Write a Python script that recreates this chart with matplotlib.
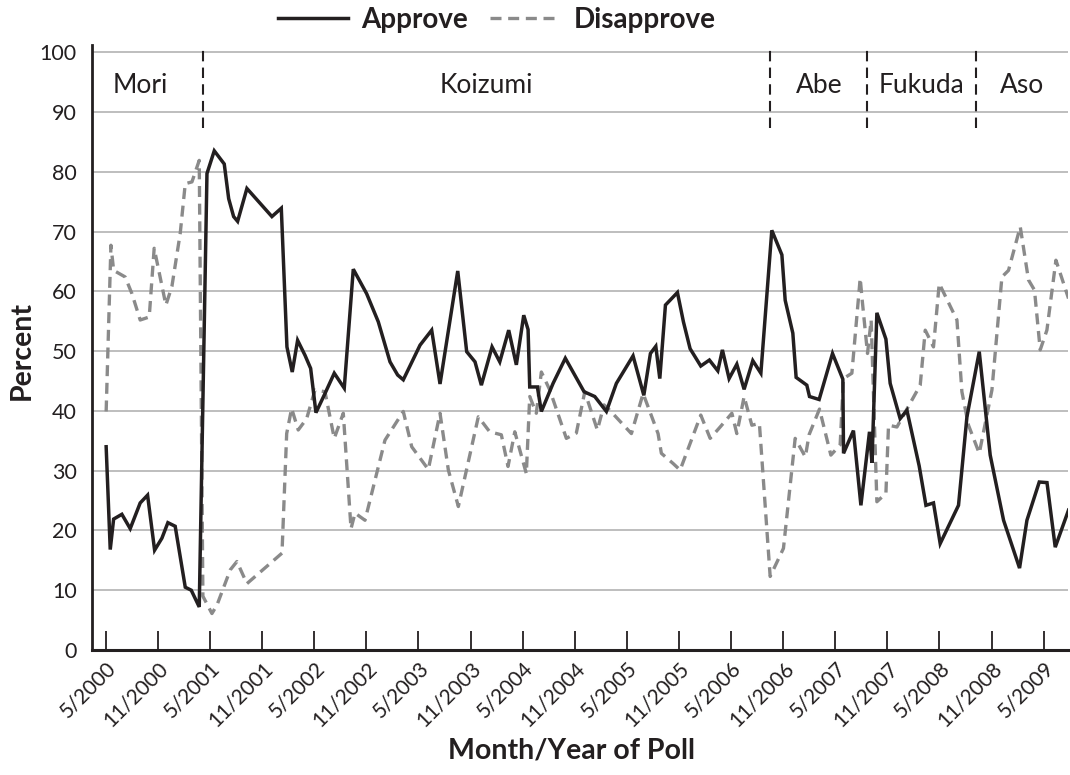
import matplotlib
matplotlib.use("Agg")
import matplotlib.pyplot as plt
from matplotlib.lines import Line2D

# ---------------- data ----------------
# poll position in months after May 2000
approve_month = [0.03, 0.5, 0.89, 1.84, 2.8, 3.95, 4.8, 5.61, 6.45, 7.14, 7.98, 9.14, 9.83, 10.75,
                 11.64, 12.48, 13.63, 14.14, 14.71, 15.17, 16.24, 19.12, 20.2, 20.85, 21.46, 22.08,
                 22.93, 23.58, 24.19, 25.23, 26.3, 27.45, 28.49, 30.03, 31.37, 32.72, 33.6, 34.25,
                 36.18, 37.52, 38.48, 40.52, 41.55, 42.51, 43.24, 44.47, 45.36, 46.39, 47.27, 48.12,
                 48.62, 48.81, 49.69, 50.15, 51.5, 52.91, 55.07, 56.3, 57.64, 58.79, 60.71, 61.95,
                 62.71, 63.33, 63.79, 64.44, 65.82, 66.51, 67.28, 68.51, 69.5, 70.47, 71.0, 71.77,
                 72.66, 73.5, 74.5, 75.43, 76.69, 77.85, 78.23, 79.11, 79.49, 80.72, 81.03, 82.14,
                 83.68, 84.87, 84.95, 86.09, 86.95, 87.94, 88.22, 88.79, 89.83, 90.32, 91.47, 92.25,
                 93.66, 94.44, 95.31, 96.08, 98.19, 99.16, 100.58, 101.84, 103.38, 105.22, 106.07,
                 107.49, 108.38, 109.33, 110.86]
approve = [34.0, 16.8, 21.9, 22.7, 20.3, 24.6, 25.9, 16.7, 18.7, 21.3, 20.7, 10.5, 10.0, 7.2,
           79.7, 83.5, 81.3, 75.5, 72.5, 71.7, 77.2, 72.5, 73.9, 50.7, 46.5, 51.8,
           49.3, 47.1, 39.7, 42.9, 46.3, 43.8, 63.7, 59.6, 54.9, 48.2, 46.0, 45.2,
           51.0, 53.5, 44.5, 63.4, 49.9, 48.2, 44.3, 50.7, 48.2, 53.5, 47.7, 56.0,
           53.6, 44.0, 44.0, 39.9, 44.6, 48.8, 43.2, 42.4, 39.9, 44.6, 49.2, 42.6,
           49.6, 50.8, 45.4, 57.7, 59.8, 54.9, 50.4, 47.5, 48.5, 46.7, 50.2, 45.4,
           47.8, 43.6, 48.4, 46.3, 70.2, 66.1, 58.5, 53.0, 45.6, 44.3, 42.4, 41.9,
           49.6, 45.3, 32.9, 36.7, 24.2, 36.5, 31.3, 56.4, 52.0, 44.6, 38.7, 40.1,
           30.8, 24.2, 24.6, 17.8, 24.2, 39.0, 49.9, 32.6, 21.7, 13.7, 21.7,
           28.1, 28.0, 17.2, 23.4]

disapprove_month = [0.03, 0.58, 0.89, 2.22, 3.0, 3.95, 4.99, 5.56, 6.91, 7.6, 8.56, 9.14, 9.91, 10.75,
                    11.17, 12.21, 12.79, 14.32, 15.09, 16.24, 20.28, 20.82, 21.39, 22.15, 23.12,
                    24.08, 25.23, 26.3, 27.34, 28.23, 28.69, 29.84, 32.14, 34.25, 35.22, 37.13,
                    38.48, 39.44, 40.59, 42.89, 44.2, 45.54, 46.31, 47.09, 48.42, 48.81, 49.57,
                    50.15, 51.12, 53.03, 54.18, 55.15, 56.6, 57.37, 58.03, 60.52, 61.87, 63.59,
                    63.97, 65.32, 66.13, 68.51, 69.59, 70.74, 72.09, 72.66, 73.5, 74.39, 75.26,
                    76.5, 78.03, 79.38, 80.55, 80.98, 82.18, 83.49, 84.56, 84.94, 85.91, 86.87,
                    87.06, 87.71, 88.13, 88.79, 89.83, 90.13, 91.1, 93.78, 94.36, 95.31, 95.97,
                    98.01, 98.58, 99.34, 100.58, 102.04, 103.19, 103.95, 105.3, 106.25, 106.94,
                    107.6, 108.37, 109.41, 110.86]
disapprove = [39.9, 67.7, 63.5, 62.4, 59.6, 55.2, 55.7, 67.2, 57.7, 60.8, 69.7, 78.0, 78.3, 81.9,
              9.0, 6.1, 7.5, 13.4, 14.8, 11.1, 16.2, 36.2, 40.4, 36.8, 38.7,
              43.5, 43.2, 35.4, 39.6, 20.3, 22.9, 21.7, 35.1, 39.9, 34.0, 30.2,
              39.6, 30.1, 24.0, 39.0, 36.5, 36.0, 30.7, 36.5, 29.5, 42.4, 39.6,
              46.5, 43.5, 35.4, 36.3, 43.2, 36.8, 41.0, 40.1, 36.2, 42.9, 36.2,
              32.9, 31.2, 30.1, 39.3, 35.4, 37.3, 39.6, 36.2, 42.4, 37.6, 37.9,
              12.3, 17.0, 35.4, 32.3, 36.0, 40.3, 32.6, 34.3, 45.4, 46.3, 62.2,
              59.1, 49.6, 55.2, 24.8, 26.2, 37.6, 37.3, 44.3, 53.5, 50.7, 61.3,
              55.2, 43.2, 37.6, 32.9, 43.5, 62.4, 63.5, 70.8, 61.9, 60.2,
              50.2, 53.5, 65.2, 58.8]

tick_labels = ['5/2000', '11/2000', '5/2001', '11/2001', '5/2002', '11/2002', '5/2003',
               '11/2003', '5/2004', '11/2004', '5/2005', '11/2005', '5/2006', '11/2006',
               '5/2007', '11/2007', '5/2008', '11/2008', '5/2009']

pm_names = ['Mori', 'Koizumi', 'Abe', 'Fukuda', 'Aso']
pm_changes = [11.17, 76.5, 87.7, 100.2]   # months after May 2000

# ---------------- style ----------------
FONT = ['Lato', 'DejaVu Sans']
plt.rcParams['font.family'] = FONT
TXT = '#231f20'
GRAY = '#8a8a8a'

fig = plt.figure(figsize=(10.7, 7.75), dpi=100)
XMIN, XMAX = -1.6, 110.8
YMIN, YMAX = 0, 101.2
ax = fig.add_axes([92 / 1070, 1 - 650 / 775, (1068 - 92) / 1070, 605 / 775])
ax.set_xlim(XMIN, XMAX)
ax.set_ylim(YMIN, YMAX)

# gridlines
ax.set_yticks(range(0, 101, 10))
ax.yaxis.grid(True, color='#b3b3b3', linewidth=1.2)
ax.set_axisbelow(True)

ax.plot(approve_month, approve, color=TXT, linewidth=2.5, solid_joinstyle='miter', zorder=3)
ax.plot(disapprove_month, disapprove, color=GRAY, linewidth=2.4, linestyle=(0, (3.3, 2.0)), zorder=2)

# PM era boundaries and labels
for b in pm_changes:
    ax.plot([b, b], [87.3, YMAX], color=TXT, linewidth=1.5, linestyle=(0, (5, 3)), zorder=4)
edges = [XMIN] + pm_changes + [XMAX]
for i, name in enumerate(pm_names):
    ax.text((edges[i] + edges[i + 1]) / 2 - (0.8 if i == 0 else 0), 94.5, name,
            ha='center', va='center', fontsize=19, color=TXT)

# axes
for s in ['top', 'right']:
    ax.spines[s].set_visible(False)
ax.spines['left'].set_linewidth(2.0)
ax.spines['bottom'].set_linewidth(2.2)
ax.spines['left'].set_color(TXT)
ax.spines['bottom'].set_color(TXT)

ax.set_xticks([i * 6 for i in range(len(tick_labels))])
ax.set_xticklabels(tick_labels, rotation=45, ha='right', rotation_mode='anchor',
                   fontsize=15, color=TXT)
ax.tick_params(axis='x', direction='in', length=14, width=1.3, color=TXT, pad=6)
ax.tick_params(axis='y', length=0, pad=11, labelsize=15.5, labelcolor=TXT)

ax.set_ylabel('Percent', fontsize=20.5, fontweight='bold', color=TXT)
ax.set_xlabel('Month/Year of Poll', fontsize=20.5, fontweight='bold', color=TXT)
ax.xaxis.set_label_coords((572 - 92) / (1068 - 92), -(750 - 650) / 605)
ax.yaxis.set_label_coords(-(92 - 22) / (1068 - 92), (650 - 350) / 605)
ax.xaxis.label.set_va('center')
ax.yaxis.label.set_va('center')

handles = [Line2D([], [], color=TXT, linewidth=2.5),
           Line2D([], [], color=GRAY, linewidth=2.4, linestyle=(0, (3.3, 2.0)))]
leg = fig.legend(handles, ['Approve', 'Disapprove'], loc='center', ncol=2,
                 bbox_to_anchor=(497 / 1070, 1 - 20 / 775), frameon=False,
                 prop={'weight': 'bold', 'size': 20}, handlelength=2.5,
                 columnspacing=0.8, handletextpad=0.5)
for t in leg.get_texts():
    t.set_color(TXT)

fig.savefig('out.png', dpi=100)
